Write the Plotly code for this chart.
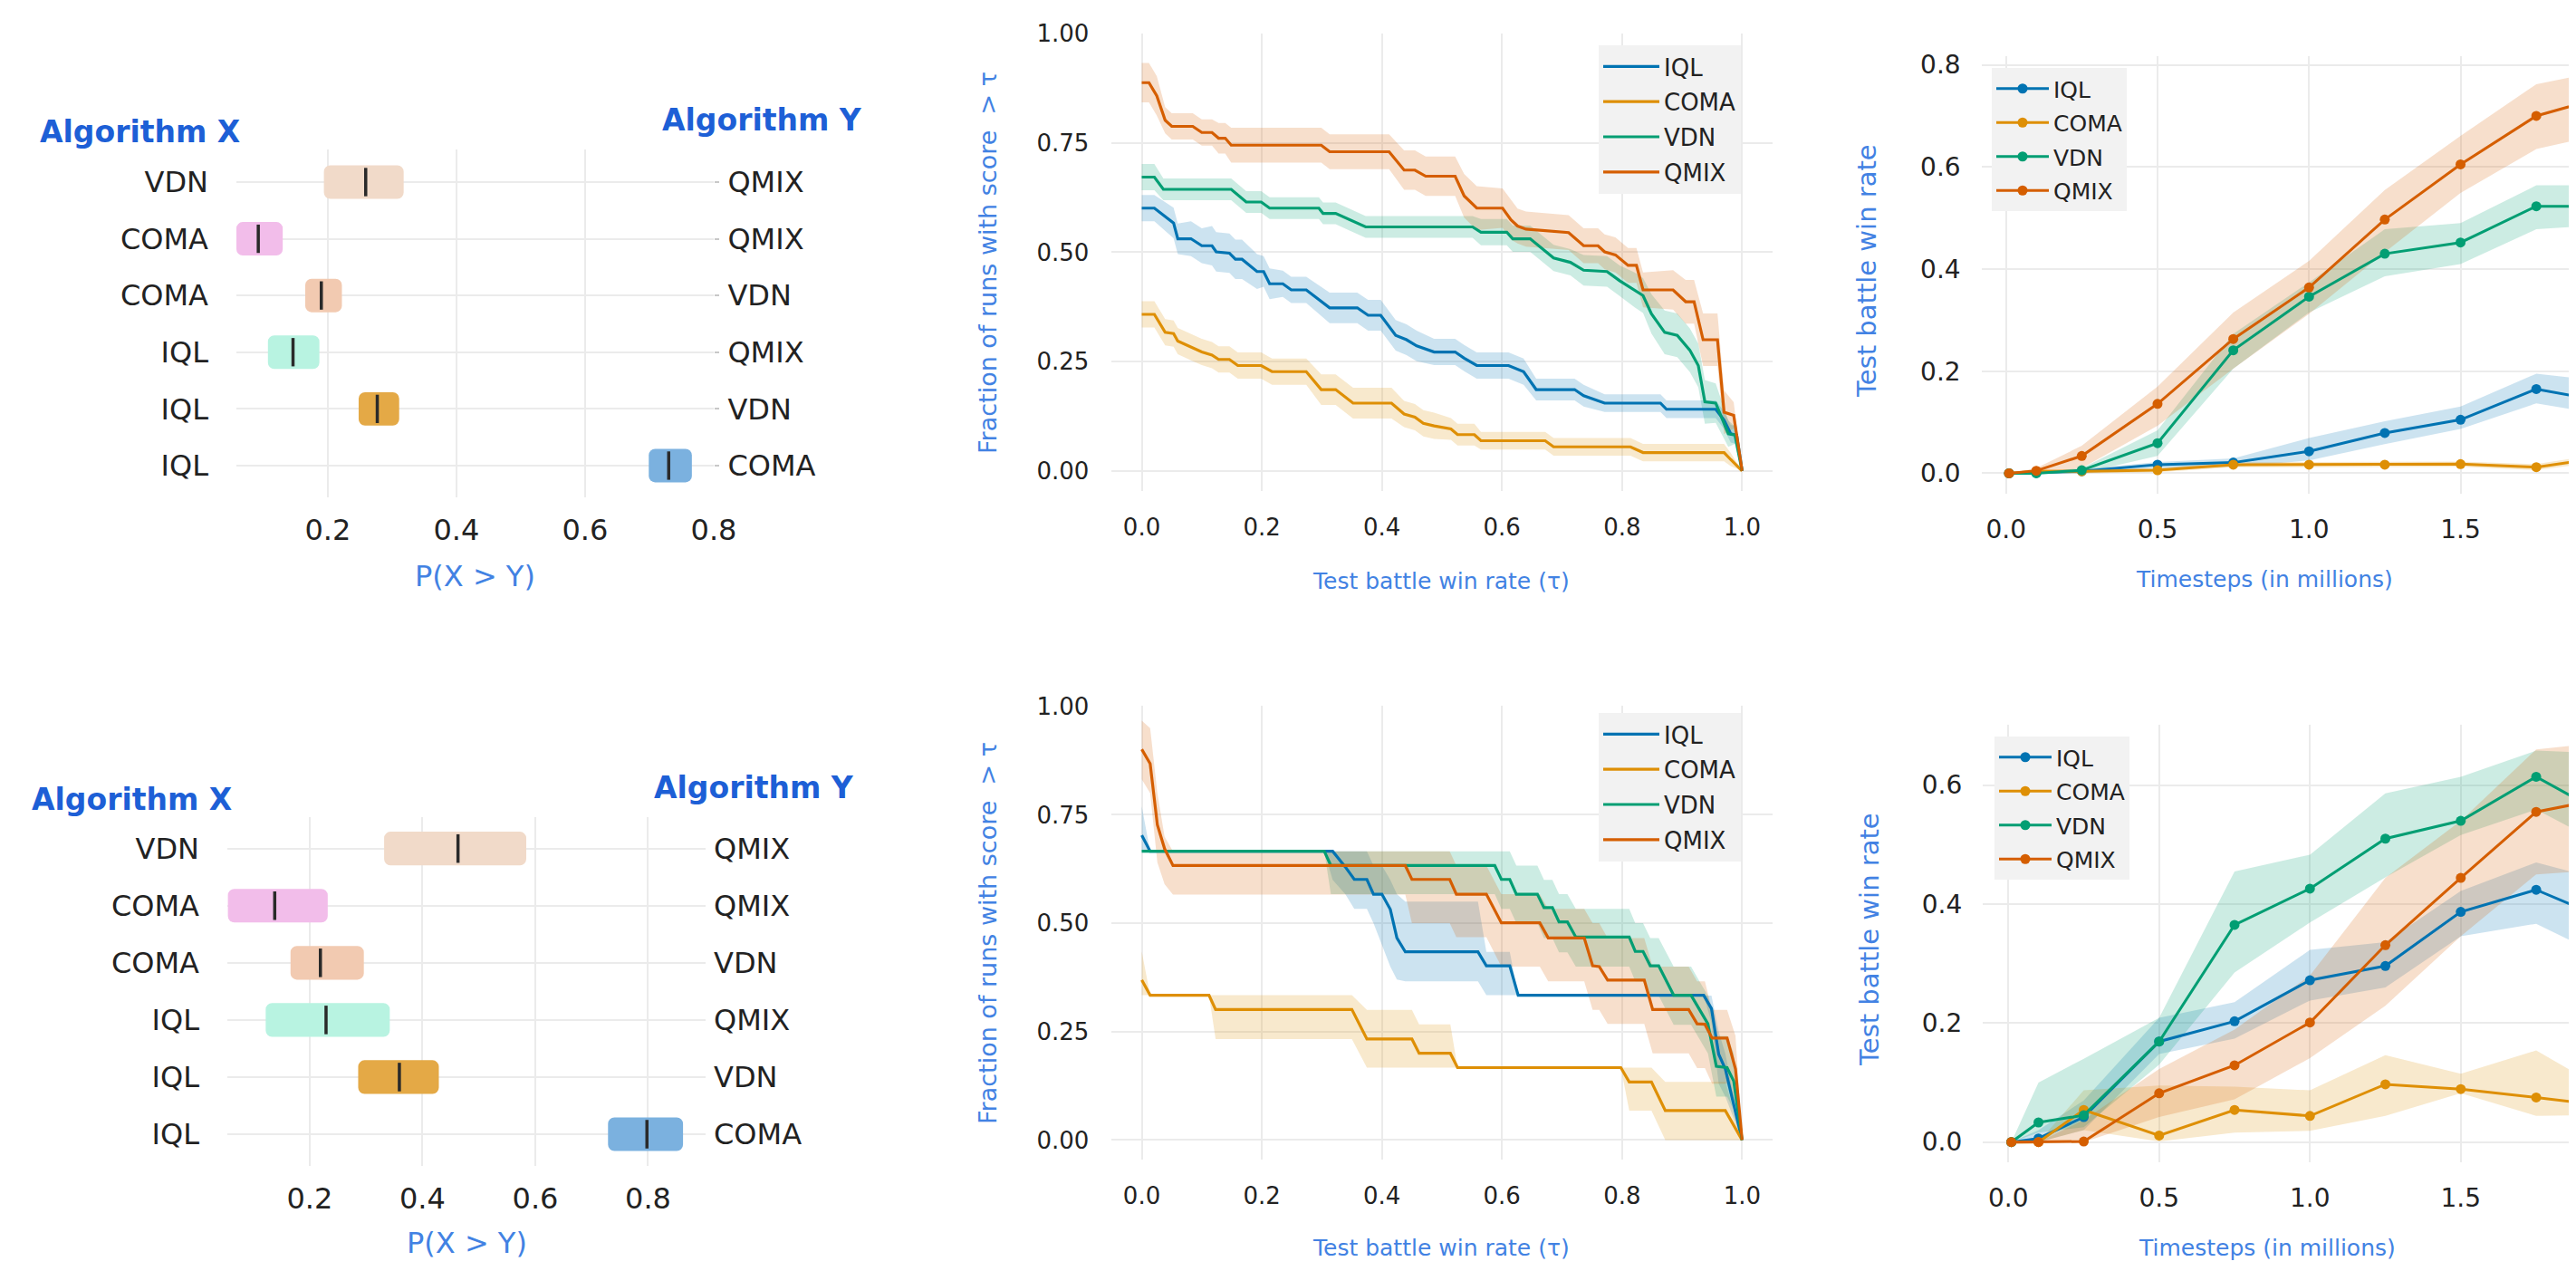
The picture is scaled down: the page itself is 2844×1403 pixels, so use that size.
import numpy as np
import plotly.graph_objects as go

# screen size 2844x1403; the page body has an 8px margin, so the figure is 8px smaller
OFF = 8
W, H = 2844 - OFF, 1403 - OFF
FONT = "DejaVu Sans"

# ---------------- Left panels: probability of improvement ----------------
alg_x = ["VDN", "COMA", "COMA", "IQL", "IQL", "IQL"]
alg_y = ["QMIX", "QMIX", "VDN", "QMIX", "VDN", "COMA"]
bar_colors = ["#f1dac9", "#f2bdea", "#f2cab1", "#b8f3e1", "#e4a946", "#7bb1df"]
prob_ticks = [0.2, 0.4, 0.6, 0.8]

top_median = [0.259, 0.092, 0.190, 0.146, 0.277, 0.730]
top_lo = [0.194, 0.058, 0.165, 0.107, 0.248, 0.699]
top_hi = [0.318, 0.130, 0.222, 0.187, 0.311, 0.766]

bot_median = [0.463, 0.138, 0.219, 0.229, 0.359, 0.798]
bot_lo = [0.332, 0.055, 0.166, 0.122, 0.286, 0.729]
bot_hi = [0.584, 0.232, 0.296, 0.342, 0.429, 0.862]

# ---------------- Middle panels: performance profiles ----------------
algs = ["IQL", "COMA", "VDN", "QMIX"]
colors = {"IQL": "#0173b2", "COMA": "#de8f05", "VDN": "#029e73", "QMIX": "#d55e00"}

# top row
tau_top_iql = [0, 0.021, 0.053, 0.060, 0.082, 0.100, 0.117, 0.124, 0.146, 0.156, 0.167, 0.192, 0.203, 0.213,
               0.235, 0.249, 0.274, 0.313, 0.359, 0.377, 0.398, 0.423, 0.441, 0.458, 0.487, 0.522, 0.537, 0.558,
               0.611, 0.636, 0.657, 0.721, 0.736, 0.771, 0.864, 0.874, 0.956, 0.970, 0.981, 0.991, 1.0]
frac_top_iql = [0.601, 0.601, 0.567, 0.531, 0.531, 0.515, 0.515, 0.501, 0.498, 0.484, 0.484, 0.456, 0.456, 0.428,
                0.428, 0.414, 0.414, 0.373, 0.373, 0.356, 0.356, 0.310, 0.300, 0.286, 0.272, 0.272, 0.258, 0.241,
                0.241, 0.227, 0.186, 0.186, 0.172, 0.155, 0.155, 0.141, 0.141, 0.116, 0.085, 0.082, 0.0]
ci_top_iql = [0.03, 0.03, 0.035, 0.035, 0.04, 0.04, 0.045, 0.045, 0.045, 0.045, 0.045, 0.04, 0.035, 0.035,
              0.03, 0.03, 0.03, 0.035, 0.035, 0.035, 0.035, 0.035, 0.035, 0.035, 0.03, 0.03, 0.03, 0.03,
              0.03, 0.03, 0.025, 0.025, 0.025, 0.02, 0.02, 0.02, 0.02, 0.02, 0.02, 0.02, 0.0]

tau_top_coma = [0, 0.021, 0.039, 0.053, 0.060, 0.082, 0.100, 0.117, 0.128, 0.146, 0.160, 0.199, 0.217, 0.274,
                0.299, 0.323, 0.352, 0.416, 0.437, 0.455, 0.469, 0.487, 0.515, 0.526, 0.554, 0.565, 0.672,
                0.686, 0.814, 0.835, 0.970, 0.981, 1.0]
frac_top_coma = [0.358, 0.358, 0.317, 0.314, 0.297, 0.283, 0.272, 0.265, 0.255, 0.255, 0.241, 0.241, 0.227, 0.227,
                 0.186, 0.186, 0.155, 0.155, 0.130, 0.123, 0.109, 0.103, 0.096, 0.083, 0.083, 0.069, 0.069,
                 0.055, 0.055, 0.042, 0.042, 0.026, 0.0]
ci_top_coma = [0.03, 0.03, 0.03, 0.03, 0.03, 0.03, 0.03, 0.03, 0.03, 0.03, 0.03, 0.03, 0.03, 0.03,
               0.035, 0.035, 0.035, 0.035, 0.03, 0.03, 0.03, 0.03, 0.025, 0.025, 0.025, 0.02, 0.02,
               0.02, 0.02, 0.02, 0.02, 0.015, 0.0]

tau_top_vdn = [0, 0.021, 0.036, 0.149, 0.174, 0.199, 0.213, 0.295, 0.302, 0.323, 0.373, 0.551, 0.565, 0.608,
               0.618, 0.647, 0.686, 0.714, 0.736, 0.775, 0.796, 0.821, 0.835, 0.849, 0.871, 0.892, 0.913, 0.927,
               0.938, 0.956, 0.977, 0.988, 1.0]
frac_top_vdn = [0.672, 0.672, 0.644, 0.644, 0.615, 0.615, 0.601, 0.601, 0.589, 0.589, 0.558, 0.558, 0.546, 0.546,
                0.531, 0.531, 0.487, 0.477, 0.459, 0.456, 0.435, 0.414, 0.401, 0.359, 0.317, 0.310, 0.276, 0.241,
                0.158, 0.155, 0.085, 0.082, 0.0]
ci_top_vdn = [0.03, 0.03, 0.025, 0.025, 0.025, 0.025, 0.025, 0.025, 0.025, 0.025, 0.025, 0.025, 0.03, 0.03,
              0.03, 0.03, 0.03, 0.03, 0.035, 0.035, 0.035, 0.04, 0.04, 0.045, 0.05, 0.05, 0.05, 0.05,
              0.05, 0.045, 0.03, 0.02, 0.0]

tau_top_qmix = [0, 0.012, 0.025, 0.039, 0.050, 0.085, 0.100, 0.117, 0.128, 0.139, 0.149, 0.299, 0.313, 0.412,
                0.437, 0.455, 0.473, 0.522, 0.537, 0.558, 0.601, 0.615, 0.626, 0.640, 0.711, 0.736, 0.760,
                0.771, 0.789, 0.810, 0.824, 0.835, 0.885, 0.906, 0.920, 0.935, 0.959, 0.970, 0.986, 1.0]
frac_top_qmix = [0.888, 0.888, 0.858, 0.802, 0.788, 0.788, 0.774, 0.774, 0.761, 0.761, 0.745, 0.745, 0.730, 0.730,
                 0.688, 0.688, 0.674, 0.674, 0.629, 0.601, 0.601, 0.574, 0.560, 0.553, 0.545, 0.515, 0.515,
                 0.501, 0.494, 0.470, 0.470, 0.414, 0.414, 0.387, 0.387, 0.300, 0.300, 0.134, 0.127, 0.0]
ci_top_qmix = [0.045, 0.045, 0.045, 0.03, 0.03, 0.03, 0.03, 0.03, 0.035, 0.035, 0.04, 0.04, 0.04, 0.04,
               0.045, 0.045, 0.045, 0.045, 0.05, 0.05, 0.045, 0.045, 0.04, 0.04, 0.04, 0.04, 0.04,
               0.04, 0.04, 0.04, 0.04, 0.04, 0.045, 0.05, 0.05, 0.06, 0.06, 0.05, 0.03, 0.0]

# bottom row
tau_bot_iql = [0, 0.014, 0.304, 0.318, 0.339, 0.354, 0.375, 0.386, 0.400, 0.414, 0.425, 0.439, 0.560, 0.574,
               0.613, 0.627, 0.936, 0.949, 0.961, 0.972, 1.0]
frac_bot_iql = [0.703, 0.666, 0.666, 0.666, 0.630, 0.601, 0.601, 0.567, 0.567, 0.532, 0.466, 0.434, 0.434, 0.402,
                0.402, 0.334, 0.334, 0.303, 0.198, 0.164, 0.0]
lo_bot_iql = [0.666, 0.666, 0.666, 0.60, 0.567, 0.533, 0.533, 0.50, 0.45, 0.40, 0.37, 0.366, 0.366, 0.334,
              0.334, 0.334, 0.334, 0.27, 0.13, 0.10, 0.0]
hi_bot_iql = [0.77, 0.666, 0.666, 0.666, 0.666, 0.666, 0.666, 0.633, 0.633, 0.60, 0.567, 0.55, 0.55, 0.434,
              0.434, 0.334, 0.334, 0.333, 0.25, 0.20, 0.0]

tau_bot_coma = [0, 0.014, 0.112, 0.123, 0.350, 0.375, 0.450, 0.462, 0.514, 0.526, 0.798, 0.812, 0.849, 0.872,
                0.972, 1.0]
frac_bot_coma = [0.369, 0.334, 0.334, 0.301, 0.301, 0.233, 0.233, 0.200, 0.200, 0.167, 0.167, 0.134, 0.134, 0.068,
                 0.068, 0.0]
lo_bot_coma = [0.334, 0.334, 0.334, 0.233, 0.233, 0.167, 0.167, 0.167, 0.167, 0.167, 0.167, 0.068, 0.068, 0.0,
               0.0, 0.0]
hi_bot_coma = [0.435, 0.334, 0.334, 0.334, 0.334, 0.30, 0.30, 0.267, 0.267, 0.167, 0.167, 0.167, 0.167, 0.134,
               0.134, 0.0]

tau_bot_vdn = [0, 0.304, 0.315, 0.588, 0.599, 0.613, 0.624, 0.659, 0.670, 0.684, 0.695, 0.709, 0.723, 0.812,
               0.822, 0.835, 0.847, 0.861, 0.886, 0.915, 0.929, 0.943, 0.957, 0.975, 0.986, 1.0]
frac_bot_vdn = [0.666, 0.666, 0.633, 0.633, 0.601, 0.601, 0.567, 0.567, 0.536, 0.536, 0.503, 0.503, 0.468, 0.468,
                0.435, 0.435, 0.402, 0.402, 0.334, 0.334, 0.301, 0.268, 0.170, 0.167, 0.136, 0.0]
lo_bot_vdn = [0.666, 0.666, 0.567, 0.567, 0.533, 0.533, 0.50, 0.50, 0.466, 0.466, 0.433, 0.433, 0.40, 0.40,
              0.366, 0.366, 0.333, 0.333, 0.266, 0.266, 0.233, 0.20, 0.10, 0.10, 0.07, 0.0]
hi_bot_vdn = [0.666, 0.666, 0.666, 0.666, 0.666, 0.666, 0.633, 0.633, 0.60, 0.60, 0.567, 0.567, 0.533, 0.533,
              0.50, 0.50, 0.466, 0.466, 0.40, 0.40, 0.366, 0.333, 0.24, 0.24, 0.20, 0.0]

tau_bot_qmix = [0, 0.014, 0.026, 0.038, 0.052, 0.439, 0.450, 0.513, 0.524, 0.574, 0.599, 0.663, 0.677, 0.737,
                0.751, 0.762, 0.776, 0.837, 0.851, 0.911, 0.925, 0.938, 0.950, 0.975, 0.989, 1.0]
frac_bot_qmix = [0.901, 0.868, 0.727, 0.672, 0.633, 0.633, 0.601, 0.601, 0.567, 0.567, 0.501, 0.501, 0.466, 0.466,
                 0.402, 0.400, 0.369, 0.369, 0.301, 0.301, 0.268, 0.267, 0.235, 0.235, 0.164, 0.0]
lo_bot_qmix = [0.832, 0.80, 0.64, 0.59, 0.566, 0.566, 0.50, 0.50, 0.468, 0.468, 0.40, 0.40, 0.366, 0.366,
               0.30, 0.30, 0.268, 0.268, 0.20, 0.20, 0.166, 0.166, 0.13, 0.13, 0.06, 0.0]
hi_bot_qmix = [0.967, 0.95, 0.80, 0.70, 0.666, 0.666, 0.666, 0.666, 0.633, 0.633, 0.567, 0.567, 0.533, 0.533,
               0.50, 0.50, 0.466, 0.466, 0.40, 0.40, 0.366, 0.366, 0.30, 0.30, 0.24, 0.0]

# ---------------- Right panels: learning curves ----------------
timesteps = [0.01, 0.1, 0.25, 0.5, 0.75, 1.0, 1.25, 1.5, 1.75, 1.9]

top_iql = [0.0, 0.001, 0.004, 0.017, 0.021, 0.043, 0.079, 0.105, 0.165, 0.149]
top_iql_lo = [0.0, 0.0, 0.0, 0.010, 0.013, 0.025, 0.057, 0.087, 0.137, 0.122]
top_iql_hi = [0.0, 0.004, 0.008, 0.022, 0.029, 0.069, 0.102, 0.131, 0.195, 0.185]
top_coma = [0.0, 0.004, 0.004, 0.006, 0.017, 0.017, 0.017, 0.018, 0.012, 0.025]
top_coma_lo = [0.0, 0.0, 0.0, 0.002, 0.012, 0.012, 0.012, 0.013, 0.006, 0.018]
top_coma_hi = [0.0, 0.008, 0.008, 0.010, 0.022, 0.022, 0.022, 0.023, 0.018, 0.032]
top_vdn = [0.0, 0.0, 0.006, 0.059, 0.241, 0.346, 0.430, 0.452, 0.523, 0.523]
top_vdn_lo = [0.0, 0.0, 0.0, 0.034, 0.205, 0.315, 0.386, 0.410, 0.478, 0.484]
top_vdn_hi = [0.0, 0.003, 0.010, 0.084, 0.273, 0.374, 0.478, 0.490, 0.564, 0.564]
top_qmix = [0.0, 0.005, 0.034, 0.136, 0.263, 0.364, 0.497, 0.605, 0.700, 0.725]
top_qmix_lo = [0.0, 0.0, 0.010, 0.093, 0.205, 0.312, 0.433, 0.549, 0.635, 0.655]
top_qmix_hi = [0.0, 0.010, 0.054, 0.170, 0.315, 0.416, 0.555, 0.661, 0.762, 0.780]

bot_iql = [0.0, 0.006, 0.042, 0.169, 0.203, 0.272, 0.296, 0.387, 0.424, 0.392]
bot_iql_lo = [0.0, 0.0, 0.020, 0.148, 0.174, 0.238, 0.260, 0.346, 0.367, 0.330]
bot_iql_hi = [0.0, 0.020, 0.070, 0.209, 0.235, 0.323, 0.336, 0.422, 0.470, 0.450]
bot_coma = [0.0, 0.0, 0.054, 0.011, 0.054, 0.044, 0.097, 0.089, 0.075, 0.066]
bot_coma_lo = [0.0, 0.0, 0.020, 0.001, 0.016, 0.019, 0.044, 0.082, 0.044, 0.045]
bot_coma_hi = [0.0, 0.0, 0.087, 0.095, 0.093, 0.087, 0.146, 0.115, 0.154, 0.110]
bot_vdn = [0.0, 0.033, 0.045, 0.169, 0.365, 0.426, 0.510, 0.540, 0.614, 0.572]
bot_vdn_lo = [0.0, 0.016, 0.025, 0.130, 0.285, 0.369, 0.445, 0.516, 0.559, 0.519]
bot_vdn_hi = [0.0, 0.100, 0.140, 0.209, 0.455, 0.483, 0.586, 0.614, 0.658, 0.655]
bot_qmix = [0.0, 0.0, 0.001, 0.082, 0.129, 0.201, 0.331, 0.444, 0.555, 0.570]
bot_qmix_lo = [0.0, 0.0, 0.0, 0.042, 0.072, 0.141, 0.229, 0.346, 0.450, 0.455]
bot_qmix_hi = [0.0, 0.0, 0.037, 0.123, 0.189, 0.280, 0.444, 0.540, 0.660, 0.668]


# ---------------- helpers (screen pixel -> paper fraction) ----------------
def px(x):
    return min(1.0, (x - OFF) / W)


def py(y):
    return 1 - (y - OFF) / H


def rgba(hexc, a):
    h = hexc.lstrip("#")
    return "rgba(%d,%d,%d,%.3f)" % (int(h[0:2], 16), int(h[2:4], 16), int(h[4:6], 16), a)


fig = go.Figure()
GRID = "#ebebeb"
TXT = "#222222"
HEAD = "#1d5fd6"
TITLE = "#4282e3"


def add_prob(med, lo, hi, xa, ya):
    rows = list(range(len(med)))
    fig.add_trace(go.Bar(
        y=rows, x=[h - l for h, l in zip(hi, lo)], base=lo, orientation="h", width=0.59,
        marker=dict(color=bar_colors, cornerradius=7, line=dict(width=0)),
        xaxis=xa, yaxis=ya, showlegend=False, hoverinfo="skip"))
    mx, my = [], []
    for r, m in zip(rows, med):
        mx += [m, m, None]
        my += [r - 0.25, r + 0.25, None]
    fig.add_trace(go.Scatter(x=mx, y=my, mode="lines", line=dict(color="#2a2a2a", width=3.5),
                             xaxis=xa, yaxis=ya, showlegend=False, hoverinfo="skip"))


add_prob(top_median, top_lo, top_hi, "x", "y")
add_prob(bot_median, bot_lo, bot_hi, "x2", "y3")
# invisible traces so the right-hand label axes are drawn
fig.add_trace(go.Scatter(x=[None], y=[None], xaxis="x", yaxis="y2", showlegend=False))
fig.add_trace(go.Scatter(x=[None], y=[None], xaxis="x2", yaxis="y4", showlegend=False))


def add_profile(series, xa, ya, leg, tag):
    for name, x, y, lo, hi in series:
        fig.add_trace(go.Scatter(
            x=list(x) + list(x)[::-1], y=list(hi) + list(lo)[::-1], fill="toself",
            fillcolor=rgba(colors[name], 0.2), line=dict(width=0), mode="lines",
            xaxis=xa, yaxis=ya, showlegend=False, hoverinfo="skip"))
    for name, x, y, lo, hi in series:
        fig.add_trace(go.Scatter(
            x=x, y=y, mode="lines", name=name, line=dict(color=colors[name], width=3.2),
            xaxis=xa, yaxis=ya, legend=leg, legendgroup=tag + name))


def sym(y, ci):
    y = np.array(y)
    ci = np.array(ci)
    return list(np.clip(y - ci, 0, 1)), list(np.clip(y + ci, 0, 1))


top_profiles = []
for name, t, f, c in [("IQL", tau_top_iql, frac_top_iql, ci_top_iql),
                      ("COMA", tau_top_coma, frac_top_coma, ci_top_coma),
                      ("VDN", tau_top_vdn, frac_top_vdn, ci_top_vdn),
                      ("QMIX", tau_top_qmix, frac_top_qmix, ci_top_qmix)]:
    lo, hi = sym(f, c)
    top_profiles.append((name, t, f, lo, hi))
add_profile(top_profiles, "x3", "y5", "legend", "pt")

bot_profiles = [("IQL", tau_bot_iql, frac_bot_iql, lo_bot_iql, hi_bot_iql),
                ("COMA", tau_bot_coma, frac_bot_coma, lo_bot_coma, hi_bot_coma),
                ("VDN", tau_bot_vdn, frac_bot_vdn, lo_bot_vdn, hi_bot_vdn),
                ("QMIX", tau_bot_qmix, frac_bot_qmix, lo_bot_qmix, hi_bot_qmix)]
add_profile(bot_profiles, "x4", "y6", "legend2", "pb")


def add_curves(series, xa, ya, leg, tag):
    for name, y, lo, hi in series:
        fig.add_trace(go.Scatter(
            x=timesteps + timesteps[::-1], y=hi + lo[::-1], fill="toself",
            fillcolor=rgba(colors[name], 0.2), line=dict(width=0), mode="lines",
            xaxis=xa, yaxis=ya, showlegend=False, hoverinfo="skip"))
    for name, y, lo, hi in series:
        fig.add_trace(go.Scatter(
            x=timesteps, y=y, mode="lines+markers", name=name,
            line=dict(color=colors[name], width=3), marker=dict(color=colors[name], size=11),
            xaxis=xa, yaxis=ya, legend=leg, legendgroup=tag + name))


add_curves([("IQL", top_iql, top_iql_lo, top_iql_hi),
            ("COMA", top_coma, top_coma_lo, top_coma_hi),
            ("VDN", top_vdn, top_vdn_lo, top_vdn_hi),
            ("QMIX", top_qmix, top_qmix_lo, top_qmix_hi)], "x5", "y7", "legend3", "ct")
add_curves([("IQL", bot_iql, bot_iql_lo, bot_iql_hi),
            ("COMA", bot_coma, bot_coma_lo, bot_coma_hi),
            ("VDN", bot_vdn, bot_vdn_lo, bot_vdn_hi),
            ("QMIX", bot_qmix, bot_qmix_lo, bot_qmix_hi)], "x6", "y8", "legend4", "cb")


# ---------------- axes ----------------
def xax(dom, rng, tickvals, fmt, size, anchor, standoff):
    return dict(domain=dom, range=rng, tickvals=tickvals, tickformat=fmt, showgrid=True, gridcolor=GRID,
                gridwidth=2, zeroline=False, showline=False, ticks="", anchor=anchor, automargin=False,
                tickfont=dict(size=size, color=TXT, family=FONT), ticklabelstandoff=standoff)


def yax(dom, rng, tickvals, fmt, size, anchor, standoff, ticktext=None):
    d = dict(domain=dom, range=rng, tickvals=tickvals, showgrid=True, gridcolor=GRID, gridwidth=2,
             zeroline=False, showline=False, ticks="", anchor=anchor, automargin=False,
             tickfont=dict(size=size, color=TXT, family=FONT), ticklabelstandoff=standoff)
    if ticktext is not None:
        d["ticktext"] = ticktext
    else:
        d["tickformat"] = fmt
    return d


rows = list(range(len(alg_x)))
layout = dict(
    width=W, height=H, margin=dict(l=0, r=0, t=0, b=0, autoexpand=False),
    paper_bgcolor="white", plot_bgcolor="white",
    font=dict(family=FONT, color=TXT),
    showlegend=True,
    xaxis=xax([px(261), px(788)], [0.058, 0.8], prob_ticks, ".1f", 32, "y", 14),
    yaxis=yax([py(549), py(165)], [5.56, -0.575], rows, None, 32, "x", 30, alg_x),
    yaxis2=dict(overlaying="y", side="right", anchor="x", range=[5.56, -0.575], tickvals=rows,
                ticktext=alg_y, showgrid=False, zeroline=False, showline=False, ticks="outside",
                ticklen=5, tickcolor="#c8c8c8", tickwidth=2, automargin=False,
                tickfont=dict(size=32, color=TXT, family=FONT), ticklabelstandoff=3),
    xaxis2=xax([px(251), px(779)], [0.054, 0.902], prob_ticks, ".1f", 32, "y3", 14),
    yaxis3=yax([py(1287), py(902)], [5.555, -0.55], rows, None, 32, "x2", 30, alg_x),
    yaxis4=dict(overlaying="y3", side="right", anchor="x2", range=[5.555, -0.55], tickvals=rows,
                ticktext=alg_y, showgrid=False, zeroline=False, showline=False, ticks="", automargin=False,
                tickfont=dict(size=32, color=TXT, family=FONT), ticklabelstandoff=8),
    xaxis3=xax([px(1227.4), px(1956.5)], [-0.05, 1.05], [0, 0.2, 0.4, 0.6, 0.8, 1.0], ".1f", 26, "y5", 22),
    yaxis5=yax([py(542), py(36.7)], [-0.046, 1.001], [0, 0.25, 0.5, 0.75, 1.0], ".2f", 26, "x3", 24),
    xaxis4=xax([px(1227.4), px(1956.5)], [-0.05, 1.05], [0, 0.2, 0.4, 0.6, 0.8, 1.0], ".1f", 26, "y6", 22),
    yaxis6=yax([py(1280), py(779.3)], [-0.045, 1.001], [0, 0.25, 0.5, 0.75, 1.0], ".2f", 26, "x4", 24),
    xaxis5=xax([px(2187.6), 1.0], [-0.081, 1.881], [0, 0.5, 1.0, 1.5], ".1f", 28, "y7", 20),
    yaxis7=yax([py(545), py(62)], [-0.040, 0.817], [0, 0.2, 0.4, 0.6, 0.8], ".1f", 28, "x5", 22),
    xaxis6=xax([px(2189.3), 1.0], [-0.084, 1.882], [0, 0.5, 1.0, 1.5], ".1f", 28, "y8", 20),
    yaxis8=yax([py(1283), py(800)], [-0.034, 0.7015], [0, 0.2, 0.4, 0.6], ".1f", 28, "x6", 22),
)


def leg(x, y, size, iw):
    return dict(x=px(x), y=py(y), xanchor="left", yanchor="top", bgcolor="#f2f2f2", borderwidth=0,
                font=dict(size=size, color=TXT, family=FONT), itemwidth=iw, tracegroupgap=2,
                traceorder="grouped")


layout["legend"] = leg(1765, 50, 26, 62)
layout["legend2"] = leg(1765, 787, 26, 62)
layout["legend3"] = leg(2199, 75, 25, 58)
layout["legend4"] = leg(2202, 813, 25, 58)


def ann(text, x, y, size, color, bold=False, angle=0, xanchor="center"):
    t = "<b>%s</b>" % text if bold else text
    return dict(text=t, x=px(x), y=py(y), xref="paper", yref="paper", showarrow=False,
                xanchor=xanchor, yanchor="middle", textangle=angle,
                font=dict(size=size, color=color, family=FONT))


layout["annotations"] = [
    ann("Algorithm X", 154, 145, 33, HEAD, bold=True),
    ann("Algorithm Y", 841, 132, 33, HEAD, bold=True),
    ann("P(X &gt; Y)", 524, 636, 32, TITLE),
    ann("Algorithm X", 145, 882, 33, HEAD, bold=True),
    ann("Algorithm Y", 832, 869, 33, HEAD, bold=True),
    ann("P(X &gt; Y)", 515, 1372, 32, TITLE),
    ann("Fraction of runs with score\u00a0 &gt; \u03c4", 1090, 290, 27, TITLE, angle=-90),
    ann("Test battle win rate (\u03c4)", 1591, 641, 25, TITLE),
    ann("Fraction of runs with score\u00a0 &gt; \u03c4", 1090, 1030, 27, TITLE, angle=-90),
    ann("Test battle win rate (\u03c4)", 1591, 1377, 25, TITLE),
    ann("Test battle win rate", 2061, 299, 29, TITLE, angle=-90),
    ann("Timesteps (in millions)", 2500, 639, 25, TITLE),
    ann("Test battle win rate", 2064, 1037, 29, TITLE, angle=-90),
    ann("Timesteps (in millions)", 2503, 1377, 25, TITLE),
]

fig.update_layout(**layout)
fig.write_html("out.html")
